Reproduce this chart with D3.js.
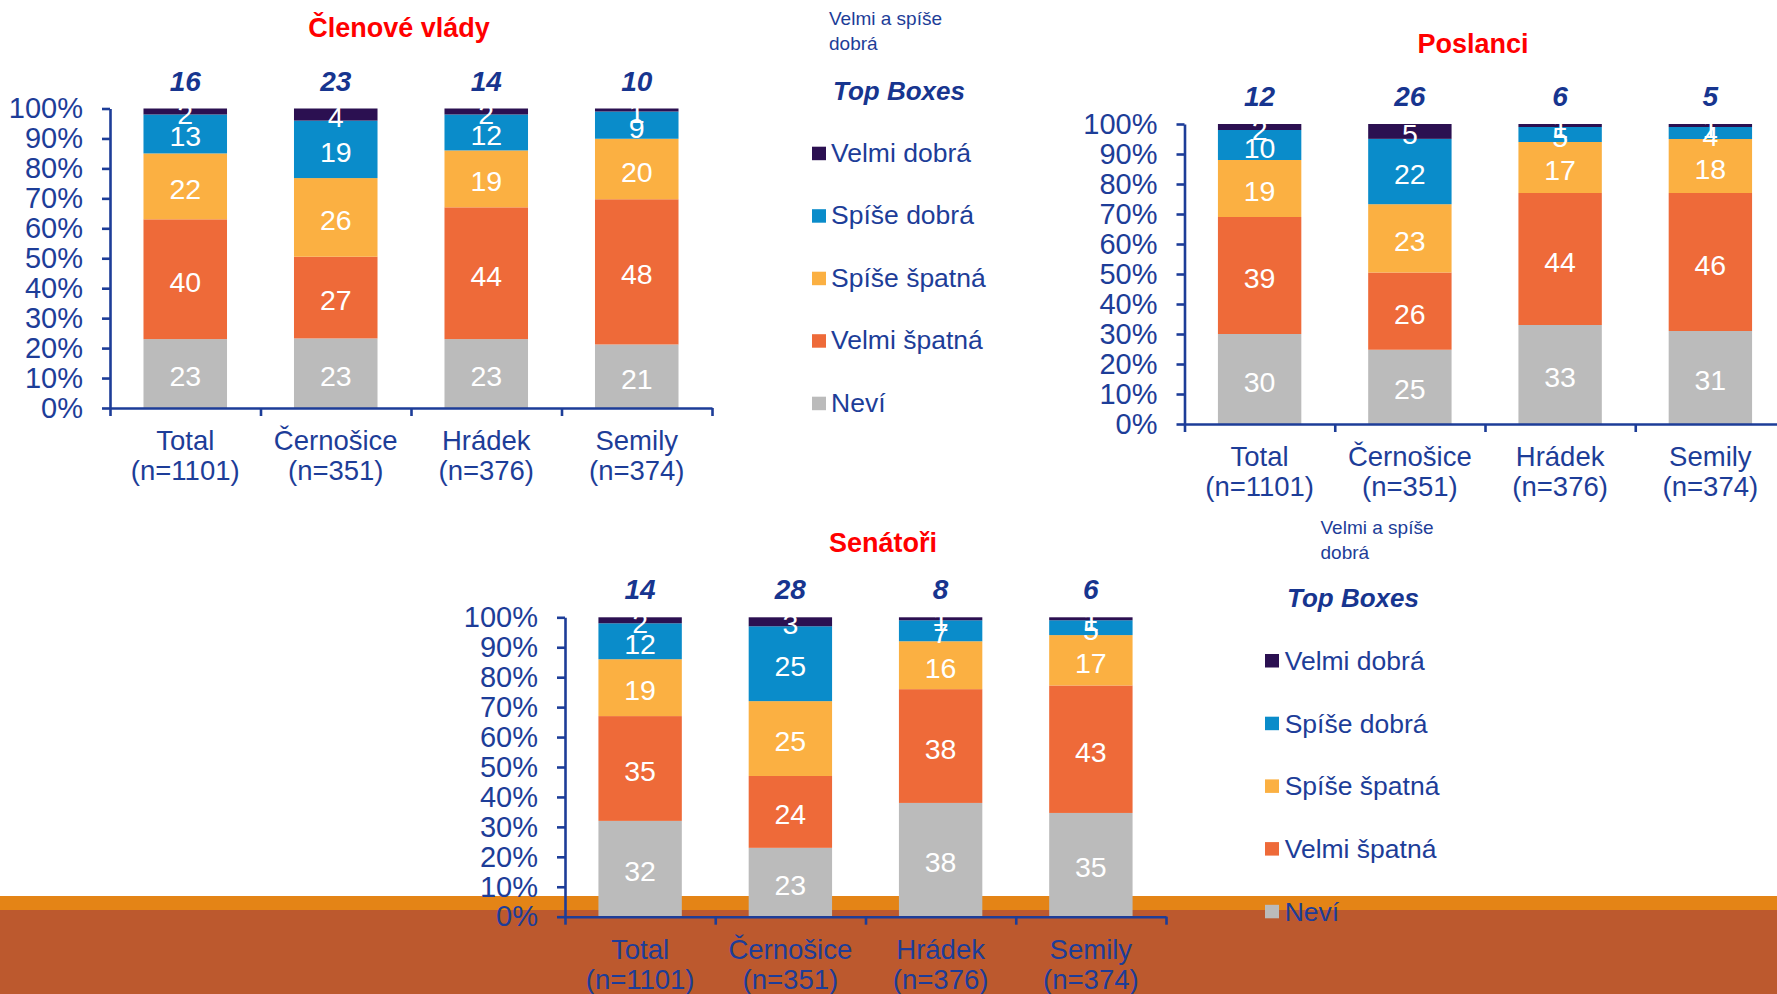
<!DOCTYPE html>
<html>
<head>
<meta charset="utf-8">
<script src="https://cdn.jsdelivr.net/npm/d3@7"></script>
<style>
  html, body { margin: 0; padding: 0; background: #ffffff; }
  svg { display: block; }
  text { font-family: "Liberation Sans", Arial, sans-serif; }
</style>
</head>
<body>
<svg id="chart" width="1777" height="994"></svg>
<script>
// ---------------- DATA ----------------
const categories = ["Total", "Černošice", "Hrádek", "Semily"];
const sampleSizes = ["(n=1101)", "(n=351)", "(n=376)", "(n=374)"];
const seriesNames = ["Neví", "Velmi špatná", "Spíše špatná", "Spíše dobrá", "Velmi dobrá"]; // bottom -> top
const legendOrder = ["Velmi dobrá", "Spíše dobrá", "Spíše špatná", "Velmi špatná", "Neví"];
const yTicks = [0, 0.1, 0.2, 0.3, 0.4, 0.5, 0.6, 0.7, 0.8, 0.9, 1.0];

// Členové vlády
const vladyNevi         = [23, 23, 23, 21];
const vladyVelmiSpatna  = [40, 27, 44, 48];
const vladySpiseSpatna  = [22, 26, 19, 20];
const vladySpiseDobra   = [13, 19, 12, 9];
const vladyVelmiDobra   = [2, 4, 2, 1];
const vladyTopBoxes     = [16, 23, 14, 10];

// Poslanci
const poslanciNevi        = [30, 25, 33, 31];
const poslanciVelmiSpatna = [39, 26, 44, 46];
const poslanciSpiseSpatna = [19, 23, 17, 18];
const poslanciSpiseDobra  = [10, 22, 5, 4];
const poslanciVelmiDobra  = [2, 5, 1, 1];
const poslanciTopBoxes    = [12, 26, 6, 5];

// Senátoři
const senatoriNevi        = [32, 23, 38, 35];
const senatoriVelmiSpatna = [35, 24, 38, 43];
const senatoriSpiseSpatna = [19, 25, 16, 17];
const senatoriSpiseDobra  = [12, 25, 7, 5];
const senatoriVelmiDobra  = [2, 3, 1, 1];
const senatoriTopBoxes    = [14, 28, 8, 6];

const legendHeader = ["Velmi a spíše", "dobrá"];
const legendTitle = "Top Boxes";

// ---------------- STYLE ----------------
const color = d3.scaleOrdinal()
  .domain(seriesNames)
  .range(["#bbbbbb", "#ee6a39", "#fbb042", "#0a8cca", "#2b1051"]);
const axisBlue = "#1d3d98";
const topBlue = "#17358f";

function buildRows(series) {
  return categories.map((c, i) => {
    const row = { cat: c };
    seriesNames.forEach((s, k) => row[s] = series[k][i]);
    return row;
  });
}

const charts = [
  { title: "Členové vlády", titleX: 399, titleY: 37,
    x0: 110, x1: 712, yTop: 108.5, yBot: 408,
    rows: buildRows([vladyNevi, vladyVelmiSpatna, vladySpiseSpatna, vladySpiseDobra, vladyVelmiDobra]),
    top: vladyTopBoxes },
  { title: "Poslanci", titleX: 1473, titleY: 53,
    x0: 1184.5, x1: 1785.5, yTop: 124, yBot: 424,
    rows: buildRows([poslanciNevi, poslanciVelmiSpatna, poslanciSpiseSpatna, poslanciSpiseDobra, poslanciVelmiDobra]),
    top: poslanciTopBoxes },
  { title: "Senátoři", titleX: 883, titleY: 552,
    x0: 565, x1: 1166, yTop: 617.3, yBot: 916.7,
    rows: buildRows([senatoriNevi, senatoriVelmiSpatna, senatoriSpiseSpatna, senatoriSpiseDobra, senatoriVelmiDobra]),
    top: senatoriTopBoxes }
];

const legends = [
  { hx: 829, hy: 25, tx: 833, ty: 100, sx: 812, sy: 146.7, textX: 831, textY: 161.7, step: 62.5 },
  { hx: 1320.5, hy: 534, tx: 1287, ty: 607, sx: 1265, sy: 654, textX: 1284.7, textY: 670, step: 62.7 }
];

// ---------------- DRAW ----------------
const svg = d3.select("#chart");

// slide background bands
svg.append("rect").attr("x", 0).attr("y", 896).attr("width", 1777).attr("height", 14).attr("fill", "#e48416");
svg.append("rect").attr("x", 0).attr("y", 910).attr("width", 1777).attr("height", 84).attr("fill", "#bc592e");

const stack = d3.stack().keys(seriesNames).offset(d3.stackOffsetExpand);

charts.forEach(ch => {
  const g = svg.append("g");
  const x = d3.scaleBand().domain(categories).range([ch.x0, ch.x1])
    .paddingInner(0.445).paddingOuter(0.2225);
  const y = d3.scaleLinear().domain([0, 1]).range([ch.yBot, ch.yTop]);
  const xEdge = d3.scaleLinear().domain([0, categories.length]).range([ch.x0, ch.x1]);

  const layers = stack(ch.rows);

  // bars
  g.selectAll("g.layer").data(layers).join("g")
    .attr("class", "layer")
    .attr("fill", d => color(d.key))
    .selectAll("rect").data(d => d).join("rect")
      .attr("x", d => x(d.data.cat))
      .attr("width", x.bandwidth())
      .attr("y", d => y(d[1]))
      .attr("height", d => y(d[0]) - y(d[1]));

  // data labels
  layers.forEach(layer => {
    g.selectAll(null).data(layer).join("text")
      .attr("x", d => x(d.data.cat) + x.bandwidth() / 2)
      .attr("y", d => (y(d[0]) + y(d[1])) / 2 + 12.5)
      .attr("text-anchor", "middle")
      .attr("font-size", 28.5)
      .attr("fill", "#ffffff")
      .text(d => d.data[layer.key]);
  });

  // y axis
  const yAxis = g.append("g")
    .attr("transform", `translate(${ch.x0},0)`)
    .call(d3.axisLeft(y).tickValues(yTicks).tickFormat(d3.format(".0%"))
      .tickSize(8).tickSizeOuter(0).tickPadding(19));
  // x axis (edge ticks)
  const xAxis = g.append("g")
    .attr("transform", `translate(0,${ch.yBot})`)
    .call(d3.axisBottom(xEdge).tickValues(d3.range(categories.length + 1))
      .tickFormat("").tickSize(8).tickSizeOuter(0));

  [yAxis, xAxis].forEach(a => {
    a.select(".domain").attr("stroke", axisBlue).attr("stroke-width", 2.6);
    a.selectAll(".tick line").attr("stroke", axisBlue).attr("stroke-width", 2.6);
    a.selectAll(".tick text").attr("fill", axisBlue).attr("font-size", 29)
      .attr("font-family", '"Liberation Sans", Arial, sans-serif');
  });

  // category labels
  g.selectAll(null).data(categories).join("text")
    .attr("x", d => x(d) + x.bandwidth() / 2)
    .attr("y", ch.yBot + 42)
    .attr("text-anchor", "middle").attr("font-size", 27.5).attr("fill", axisBlue)
    .text(d => d);
  g.selectAll(null).data(sampleSizes).join("text")
    .attr("x", (d, i) => x(categories[i]) + x.bandwidth() / 2)
    .attr("y", ch.yBot + 72)
    .attr("text-anchor", "middle").attr("font-size", 27.5).attr("fill", axisBlue)
    .text(d => d);

  // top boxes numbers
  g.selectAll(null).data(ch.top).join("text")
    .attr("x", (d, i) => x(categories[i]) + x.bandwidth() / 2)
    .attr("y", ch.yTop - 18)
    .attr("text-anchor", "middle").attr("font-size", 28)
    .attr("font-weight", "bold").attr("font-style", "italic").attr("fill", topBlue)
    .text(d => d);

  // title
  g.append("text").attr("x", ch.titleX).attr("y", ch.titleY)
    .attr("text-anchor", "middle").attr("font-size", 27).attr("font-weight", "bold")
    .attr("fill", "#ff0000").text(ch.title);
});

// legends
legends.forEach(L => {
  const g = svg.append("g");
  g.selectAll(null).data(legendHeader).join("text")
    .attr("x", L.hx).attr("y", (d, i) => L.hy + i * 25)
    .attr("font-family", 'Lato, "Open Sans", sans-serif').attr("font-size", 19)
    .attr("fill", axisBlue).text(d => d);
  g.append("text").attr("x", L.tx).attr("y", L.ty)
    .attr("font-size", 26).attr("font-weight", "bold").attr("font-style", "italic")
    .attr("fill", topBlue).text(legendTitle);
  const items = g.selectAll("g.item").data(legendOrder).join("g").attr("class", "item");
  items.append("rect")
    .attr("x", L.sx).attr("y", (d, i) => L.sy + i * L.step)
    .attr("width", 14).attr("height", 13.5).attr("fill", d => color(d));
  items.append("text")
    .attr("x", L.textX).attr("y", (d, i) => L.textY + i * L.step)
    .attr("font-size", 26.5).attr("fill", axisBlue).text(d => d);
});
</script>
</body>
</html>
